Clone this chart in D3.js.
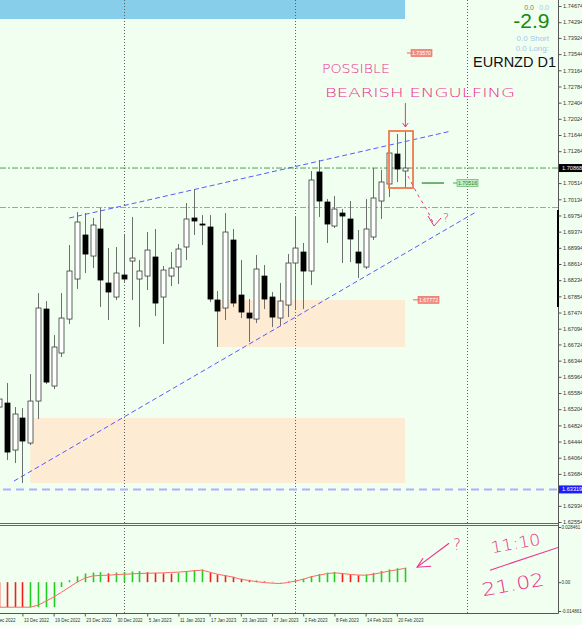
<!DOCTYPE html>
<html><head><meta charset="utf-8">
<script src="https://cdn.jsdelivr.net/npm/d3@7/dist/d3.min.js"></script>
<style>body{margin:0;background:#f0fff0;}svg{display:block;}</style>
</head><body>
<svg id="c" width="582" height="625"></svg>
<script>
// ---------------- DATA ----------------
const firstIndex = -3; // bar index of first row (8 Dec 2022); 13 Dec 2022 = 0
const dates = ["8 Dec","9 Dec","12 Dec","13 Dec","14 Dec","15 Dec","16 Dec","19 Dec","20 Dec","21 Dec","22 Dec","23 Dec","27 Dec","28 Dec","29 Dec","30 Dec",
"2 Jan","3 Jan","4 Jan","5 Jan","6 Jan","9 Jan","10 Jan","11 Jan","12 Jan","13 Jan","16 Jan","17 Jan","18 Jan","19 Jan","20 Jan","23 Jan","24 Jan","25 Jan","26 Jan","27 Jan","30 Jan","31 Jan",
"1 Feb","2 Feb","3 Feb","6 Feb","7 Feb","8 Feb","9 Feb","10 Feb","13 Feb","14 Feb","15 Feb","16 Feb","17 Feb","20 Feb","21 Feb"];
const open = [1.65254,1.65348,1.64244,1.64996,1.64409,1.65395,1.67556,1.65748,1.66523,1.67321,
1.68261,1.69295,1.68801,1.69436,1.68167,1.67838,1.68355,1.68684,1.68261,1.68331,
1.68778,1.67838,1.68331,1.68543,1.69013,1.69694,1.69553,1.69483,1.67768,1.67580,
1.69177,1.67885,1.67462,1.67321,1.68331,1.67838,1.67345,1.67650,1.68637,1.68895,
1.68449,1.70775,1.70070,1.69506,1.69811,1.69671,1.68895,1.68543,1.69248,1.70093,
1.70493,1.71197,1.70798];
const high = [1.65536,1.65818,1.65254,1.65231,1.66029,1.67932,1.67744,1.66946,1.67932,1.69060,
1.69835,1.69811,1.69694,1.69929,1.68989,1.69013,1.69318,1.69718,1.68707,1.69365,
1.69436,1.68566,1.68895,1.69083,1.70046,1.70375,1.69764,1.69764,1.67979,1.69811,
1.69436,1.68707,1.67791,1.68825,1.68590,1.67956,1.68167,1.68848,1.69741,1.69107,
1.70798,1.71056,1.70140,1.70211,1.69905,1.70093,1.69412,1.70140,1.70869,1.70822,
1.71291,1.71667,1.71738];
const low = [1.65184,1.64009,1.63939,1.63469,1.64362,1.64972,1.65794,1.65677,1.66429,1.67204,
1.68026,1.68402,1.68519,1.67603,1.67298,1.67768,1.68191,1.67768,1.67133,1.68003,
1.67392,1.66734,1.68097,1.68144,1.68707,1.69295,1.69060,1.67721,1.66664,1.67298,
1.67603,1.67345,1.66781,1.67227,1.67556,1.67133,1.67157,1.67368,1.67556,1.67556,
1.68120,1.69718,1.69107,1.69459,1.68637,1.68660,1.68285,1.68496,1.69177,1.69671,
1.70187,1.70540,1.70399];
const close = [1.65442,1.64197,1.65090,1.64456,1.65395,1.67580,1.65841,1.66664,1.67345,1.68449,
1.69600,1.68848,1.69530,1.68238,1.67956,1.68402,1.68261,1.68754,1.68449,1.68942,
1.67697,1.68472,1.68519,1.68966,1.69671,1.69624,1.69530,1.67791,1.67509,1.69365,
1.67697,1.67486,1.67345,1.68496,1.67791,1.67368,1.67744,1.68637,1.68989,1.68449,
1.70587,1.70093,1.69553,1.69905,1.69741,1.69201,1.68637,1.69436,1.70164,1.70540,
1.71221,1.70845,1.70868];
// oscillator (lower pane)
const osma = [-0.0129,-0.0129,-0.0129,-0.0129,-0.0129,-0.0129,-0.0129,-0.0129,-0.0025,0.0010,
0.0030,0.0045,0.0050,0.0052,0.0046,0.0050,0.0053,0.0055,0.0057,0.0052,
0.0048,0.0046,0.0044,0.0048,0.0056,0.0062,0.0066,0.0050,0.0040,0.0036,
0.0028,0.0018,0.0012,0.0008,0.0004,0.0002,0.0001,0.0004,0.0010,0.0018,
0.0032,0.0042,0.0049,0.0053,0.0046,0.0041,0.0036,0.0040,0.0048,0.0058,
0.0066,0.0072,0.0075];
const osmaDir = ["down","down","down","down","up","up","up","up","up","up",
"up","up","up","up","down","up","up","up","up","down",
"down","down","down","up","up","up","up","down","down","down",
"down","down","down","down","down","down","down","up","up","up",
"up","up","up","up","down","down","down","up","up","up",
"up","up","up"];
const signal = [-0.0129,-0.0129,-0.0129,-0.0129,-0.0129,-0.0119,-0.0098,-0.0077,-0.0052,-0.0026,
0.0000,0.0021,0.0032,0.0035,0.0036,0.0039,0.0041,0.0043,0.0045,0.0046,
0.0047,0.0048,0.0050,0.0052,0.0055,0.0059,0.0062,0.0052,0.0041,0.0034,
0.0026,0.0015,0.0009,0.0003,-0.0002,-0.0005,-0.0007,-0.0002,0.0006,0.0015,
0.0028,0.0036,0.0044,0.0048,0.0045,0.0040,0.0037,0.0036,0.0041,0.0049,
0.0057,0.0064,0.0071];
// axes
const priceTicks = [1.74674,1.74294,1.73924,1.73544,1.73164,1.72784,1.72404,1.72024,1.71644,1.71264,
1.70514,1.70134,1.69754,1.69374,1.68994,1.68614,1.68234,1.67854,1.67474,1.67094,1.66724,1.66344,
1.65964,1.65584,1.65204,1.64824,1.64444,1.64064,1.63684,1.62934,1.62554];
const indTicks = [0.028461, 0, -0.014861];
const indTickLabels = ["0.028461","0.00","-0.014861"];
const dateTickIdx = [-4,0,4,8,12,16,20,24,28,32,36,40,44,48];
const dateTickLabels = ["7 Dec 2022","13 Dec 2022","19 Dec 2022","23 Dec 2022","30 Dec 2022","5 Jan 2023","11 Jan 2023",
"17 Jan 2023","23 Jan 2023","27 Jan 2023","2 Feb 2023","8 Feb 2023","14 Feb 2023","20 Feb 2023"];
const periodSeparators = [13, 35, 57];
// levels / objects
const currentPrice = 1.70868;
const bluePrice = 1.63319;
const orangeLevel = 1.69941;
const upperTrend = [[6, 1.69694], [55, 1.71738]];
const lowerTrend = [[-1.08, 1.63516], [58.15, 1.69835]];
const zones = [{i0: 25, i1: 49.05, p0: 1.67768, p1: 1.66664}, {i0: 1, i1: 49.05, p0: 1.64996, p1: 1.63469}];
const topBar = {i0: -4, i1: 49.05, p0: 1.7490, p1: 1.74369};
const patternBox = {i0: 47, i1: 50.08, p0: 1.71738, p1: 1.70399};
const redTags = [{i: 49.3, i2: 49.82, p: 1.73570, label: "1.73570"}, {i: 50.08, i2: 50.72, p: 1.67772, label: "1.67772"}];
const greenLevel = {i0: 51.2, i1: 54.05, i2: 55.2, i3: 55.72, p: 1.70516, label: "1.70516"};
// hand-written notes (bar index, price or oscillator value)
const notesMain = [{t: "POSSIBLE", i: 38.4, p: 1.73100, size: 12, len: 68},
                   {t: "BEARISH ENGULFING", i: 38.8, p: 1.72536, size: 13, len: 190},
                   {t: "?", i: 53.9, p: 1.69600, size: 12, len: 0}];
const arrowDown = [[49.1, 1.72395], [49.1, 1.71832]];
const arrowDownHead = [[48.75, 1.71925], [49.1, 1.71832], [49.45, 1.71925]];
const dashedPath = [[49.44, 1.70681], [50.72, 1.70234], [52.0, 1.69835], [52.77, 1.69530]];
const dashedHead = [[52.0, 1.69741], [52.77, 1.69506], [53.67, 1.69694]];
const notesInd = [{t: "?", i: 55.2, v: 0.0165, size: 15, len: 0, rot: 0},
                  {t: "11:10", i: 60.2, v: 0.01496, size: 16, len: 50, rot: -10},
                  {t: "21.02", i: 59.05, v: -0.00722, size: 18, len: 63, rot: -10}];
const indArrow = [[54.7, 0.02011], [50.6, 0.00774]];
const indArrowHead = [[51.36, 0.01238], [50.6, 0.00774], [52.4, 0.00825]];
const indSlash = [[59.95, 0.00619], [69.18, 0.01857]];

// ---------------- DRAW ----------------
const W = 582, H = 625, axisX = 558, mainBottom = 523, indTop = 526, indBottom = 613;
const svg = d3.select("#c");
svg.append("rect").attr("width", W).attr("height", H).attr("fill", "#f0fff0");

const x = d3.scaleLinear().domain([0, 48]).range([22.4, 396.8]);
const y = d3.scaleLinear().domain([1.62554, 1.74674]).range([522, 6]);
const yi = d3.scaleLinear().domain([-0.014861, 0.028461]).range([611, 527]);

const defs = svg.append("defs");
defs.append("clipPath").attr("id", "cm").append("rect").attr("x", 0).attr("y", 0).attr("width", axisX).attr("height", mainBottom);
defs.append("clipPath").attr("id", "ci").append("rect").attr("x", 0).attr("y", indTop).attr("width", axisX).attr("height", indBottom - indTop);

const main = svg.append("g").attr("clip-path", "url(#cm)");
const ind = svg.append("g").attr("clip-path", "url(#ci)");
const pink = "#ee2f8e";

// top blue bar
main.append("rect").attr("x", x(topBar.i0)).attr("y", y(topBar.p0))
  .attr("width", x(topBar.i1) - x(topBar.i0)).attr("height", y(topBar.p1) - y(topBar.p0)).attr("fill", "#87ceeb");
// zones
main.selectAll("rect.zone").data(zones).join("rect").attr("class", "zone")
  .attr("x", d => x(d.i0)).attr("y", d => y(d.p0)).attr("width", d => x(d.i1) - x(d.i0)).attr("height", d => y(d.p1) - y(d.p0))
  .attr("fill", "#fdebd3");
// period separators
[main, ind].forEach(g => g.selectAll("line.sep").data(periodSeparators).join("line").attr("class", "sep")
  .attr("x1", d => Math.round(x(d)) + 0.5).attr("x2", d => Math.round(x(d)) + 0.5).attr("y1", 0).attr("y2", indBottom)
  .attr("stroke", "#606060").attr("stroke-width", 1).attr("stroke-dasharray", "1,2"));
// horizontal levels
main.append("line").attr("x1", 0).attr("x2", axisX).attr("y1", y(currentPrice)).attr("y2", y(currentPrice))
  .attr("stroke", "#4c9f4c").attr("stroke-dasharray", "6,2,2,2");
main.append("line").attr("x1", 0).attr("x2", axisX).attr("y1", y(orangeLevel)).attr("y2", y(orangeLevel))
  .attr("stroke", "#ef8a5a").attr("stroke-dasharray", "6,2,2,2");
main.append("line").attr("x1", 3).attr("x2", axisX).attr("y1", y(bluePrice)).attr("y2", y(bluePrice))
  .attr("stroke", "#a9b2ff").attr("stroke-width", 2).attr("stroke-dasharray", "8,5");
// trend lines
const lineGen = d3.line().x(d => x(d[0])).y(d => y(d[1]));
[upperTrend, lowerTrend].forEach(t => main.append("path").attr("d", lineGen(t)).attr("fill", "none")
  .attr("stroke", "#5a5aff").attr("stroke-width", 1).attr("stroke-dasharray", "5,3"));

// candles
const bars = dates.map((d, k) => ({i: k + firstIndex, o: open[k], h: high[k], l: low[k], c: close[k]}));
main.selectAll("line.wick").data(bars).join("line").attr("class", "wick")
  .attr("x1", d => Math.round(x(d.i)) + 0.5).attr("x2", d => Math.round(x(d.i)) + 0.5)
  .attr("y1", d => y(d.h)).attr("y2", d => y(d.l)).attr("stroke", "#6e6e6e").attr("stroke-width", 1);
main.selectAll("rect.body").data(bars).join("rect").attr("class", "body")
  .attr("x", d => Math.round(x(d.i)) - 2)
  .attr("y", d => y(Math.max(d.o, d.c)))
  .attr("width", 5).attr("height", d => Math.max(1, Math.abs(y(d.o) - y(d.c))))
  .attr("fill", d => d.c >= d.o ? "#ffffff" : "#000000")
  .attr("stroke", d => d.c >= d.o ? "#3a3a3a" : "#000000").attr("stroke-width", 0.8);

// tags
redTags.forEach(t => {
  main.append("line").attr("x1", x(t.i)).attr("x2", x(t.i2)).attr("y1", y(t.p)).attr("y2", y(t.p)).attr("stroke", "#e8685c");
  main.append("rect").attr("x", x(t.i2)).attr("y", y(t.p) - 3.5).attr("width", 21).attr("height", 7)
    .attr("fill", "#f28b80").attr("stroke", "#e8685c").attr("stroke-width", 0.6);
  main.append("text").attr("x", x(t.i2) + 10.5).attr("y", y(t.p) + 2).attr("text-anchor", "middle")
    .attr("font-family", "Liberation Sans, Arial").attr("font-size", 5.3).attr("fill", "#fff").text(t.label);
});
main.append("line").attr("x1", x(greenLevel.i0)).attr("x2", x(greenLevel.i1)).attr("y1", y(greenLevel.p)).attr("y2", y(greenLevel.p))
  .attr("stroke", "#2e8b2e").attr("stroke-width", 1.3);
main.append("line").attr("x1", x(greenLevel.i2)).attr("x2", x(greenLevel.i3)).attr("y1", y(greenLevel.p)).attr("y2", y(greenLevel.p))
  .attr("stroke", "#4caf50");
main.append("rect").attr("x", x(greenLevel.i3)).attr("y", y(greenLevel.p) - 3.5).attr("width", 21).attr("height", 7)
  .attr("fill", "#c5ecc5").attr("stroke", "#4caf50").attr("stroke-width", 0.6);
main.append("text").attr("x", x(greenLevel.i3) + 10.5).attr("y", y(greenLevel.p) + 2).attr("text-anchor", "middle")
  .attr("font-family", "Liberation Sans, Arial").attr("font-size", 5.3).attr("fill", "#2e7d32").text(greenLevel.label);

// pattern box
main.append("rect").attr("x", x(patternBox.i0)).attr("y", y(patternBox.p0))
  .attr("width", x(patternBox.i1) - x(patternBox.i0)).attr("height", y(patternBox.p1) - y(patternBox.p0))
  .attr("fill", "none").attr("stroke", "#f27a4a").attr("stroke-width", 1.8);

// hand-written notes (main)
const hand = "DejaVu Sans, Noto Sans, sans-serif";
notesMain.forEach(n => {
  const t = main.append("text").attr("x", x(n.i)).attr("y", y(n.p)).attr("font-family", hand).attr("font-weight", 200)
    .attr("font-size", n.size).attr("fill", pink).text(n.t);
  if (n.len) t.attr("textLength", n.len).attr("lengthAdjust", "spacingAndGlyphs");
});
main.append("path").attr("d", lineGen(arrowDown)).attr("stroke", pink).attr("fill", "none").attr("stroke-width", 1);
main.append("path").attr("d", lineGen(arrowDownHead)).attr("stroke", pink).attr("fill", "none").attr("stroke-width", 1);
main.append("path").attr("d", d3.line().x(d => x(d[0])).y(d => y(d[1])).curve(d3.curveCatmullRom)(dashedPath))
  .attr("stroke", pink).attr("fill", "none").attr("stroke-width", 1).attr("stroke-dasharray", "3,4");
main.append("path").attr("d", lineGen(dashedHead)).attr("stroke", pink).attr("fill", "none").attr("stroke-width", 1);

// oscillator
ind.selectAll("line.h").data(bars).join("line").attr("class", "h")
  .attr("x1", d => Math.round(x(d.i)) + 0.5).attr("x2", d => Math.round(x(d.i)) + 0.5)
  .attr("y1", yi(0)).attr("y2", (d, k) => yi(osma[k]))
  .attr("stroke", (d, k) => osmaDir[k] === "up" ? "#22cc22" : "#ff1a1a").attr("stroke-width", 1.6);
ind.append("path").datum(bars).attr("d", d3.line().x(d => x(d.i)).y((d, k) => yi(signal[k])))
  .attr("fill", "none").attr("stroke", "#ff6666").attr("stroke-width", 1);
const lineInd = d3.line().x(d => x(d[0])).y(d => yi(d[1]));
[indArrow, indArrowHead, indSlash].forEach(p => ind.append("path").attr("d", lineInd(p)).attr("stroke", pink)
  .attr("fill", "none").attr("stroke-width", 1.1));
notesInd.forEach(n => {
  const px = x(n.i), py = yi(n.v);
  const t = ind.append("text").attr("x", px).attr("y", py).attr("font-family", hand).attr("font-weight", 200)
    .attr("font-size", n.size).attr("fill", pink).attr("transform", `rotate(${n.rot},${px},${py})`).text(n.t);
  if (n.len) t.attr("textLength", n.len).attr("lengthAdjust", "spacingAndGlyphs");
});

// panel frame
svg.append("line").attr("x1", 0).attr("x2", axisX).attr("y1", 523.5).attr("y2", 523.5).attr("stroke", "#666");
svg.append("line").attr("x1", 0).attr("x2", axisX).attr("y1", 525.5).attr("y2", 525.5).attr("stroke", "#666");
svg.append("line").attr("x1", 0).attr("x2", axisX + 0.5).attr("y1", indBottom + 0.5).attr("y2", indBottom + 0.5).attr("stroke", "#555");
svg.append("line").attr("x1", axisX + 0.5).attr("x2", axisX + 0.5).attr("y1", 0).attr("y2", indBottom + 0.5).attr("stroke", "#555");
svg.append("line").attr("x1", axisX).attr("x2", axisX).attr("y1", y(1.69882)).attr("y2", y(1.67604)).attr("stroke", "#000").attr("stroke-width", 2);

// price axis
const font = "Liberation Sans, Arial, sans-serif";
const pa = svg.append("g").attr("transform", `translate(${axisX + 0.5},0)`)
  .call(d3.axisRight(y).tickValues(priceTicks).tickSize(3).tickPadding(1.5).tickFormat(d3.format(".5f")));
pa.select(".domain").remove();
pa.selectAll("line").attr("stroke", "#555");
pa.selectAll("text").attr("font-family", font).attr("font-size", 5.6).attr("fill", "#333");
const ia = svg.append("g").attr("transform", `translate(${axisX + 0.5},0)`)
  .call(d3.axisRight(yi).tickValues(indTicks).tickSize(2.5).tickPadding(0.5).tickFormat((d, k) => indTickLabels[k]));
ia.select(".domain").remove();
ia.selectAll("line").attr("stroke", "#555");
ia.selectAll("text").attr("font-family", font).attr("font-size", 4.5).attr("fill", "#333");
// price boxes
[[currentPrice, "#000", "#fff"], [bluePrice, "#1c1cff", "#fff"]].forEach(([p, bg, fg]) => {
  svg.append("rect").attr("x", axisX + 1).attr("y", y(p) - 4).attr("width", W - axisX - 1).attr("height", 8).attr("fill", bg);
  svg.append("text").attr("x", axisX + 4).attr("y", y(p) + 2).attr("font-family", font).attr("font-size", 5.6).attr("fill", fg)
    .text(d3.format(".5f")(p));
});
// date axis
const da = svg.append("g").attr("transform", `translate(0,${indBottom + 0.5})`)
  .call(d3.axisBottom(x).tickValues(dateTickIdx).tickSize(3).tickFormat((d, k) => dateTickLabels[k]));
da.select(".domain").remove();
da.selectAll("line").attr("stroke", "#555");
da.selectAll("text").attr("text-anchor", "start").attr("x", 1).attr("y", 8).attr("dy", 0)
  .attr("font-family", font).attr("font-size", 5.4).attr("fill", "#333")
  .attr("textLength", function () { return this.textContent.length * 2.28; }).attr("lengthAdjust", "spacingAndGlyphs");

// header info
const hdr = svg.append("g").attr("font-family", font);
hdr.append("text").attr("x", 534).attr("y", 9.5).attr("text-anchor", "end").attr("font-size", 7).attr("fill", "#6d8a6d").text("0.0");
hdr.append("text").attr("x", 549).attr("y", 9.5).attr("text-anchor", "end").attr("font-size", 7).attr("fill", "#a7c7e7").text("0.0");
hdr.append("text").attr("x", 549.5).attr("y", 28).attr("text-anchor", "end").attr("font-size", 21).attr("fill", "#138a13").text("-2.9");
hdr.append("text").attr("x", 549).attr("y", 41).attr("text-anchor", "end").attr("font-size", 8).attr("fill", "#a7c7e7").text("0.0  Short");
hdr.append("text").attr("x", 549).attr("y", 51).attr("text-anchor", "end").attr("font-size", 8).attr("fill", "#a7c7e7").text("0.0  Long:");
hdr.append("text").attr("x", 556).attr("y", 67).attr("text-anchor", "end").attr("font-size", 14.5).attr("fill", "#111").text("EURNZD D1");
</script>
</body></html>
